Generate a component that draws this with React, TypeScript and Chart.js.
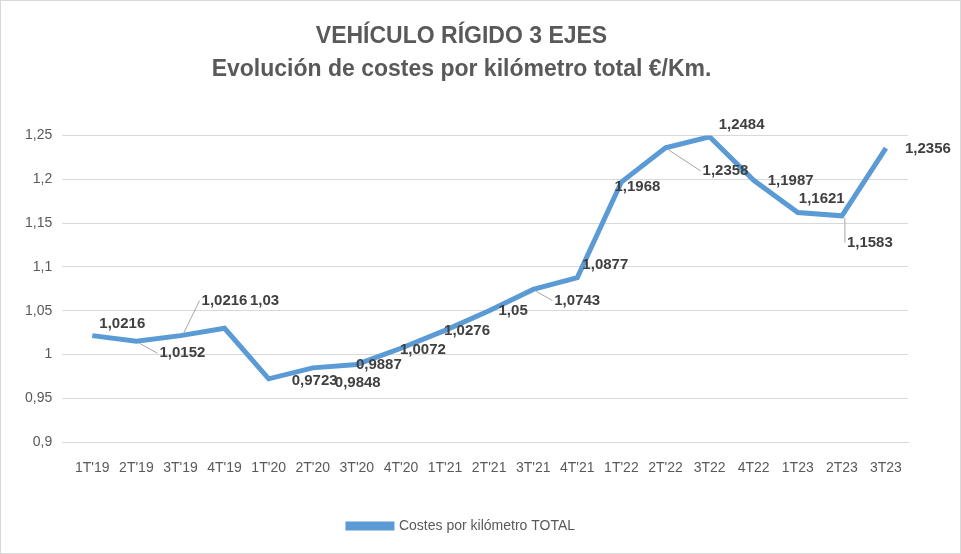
import React, { useEffect, useRef } from "react";
import { Chart, registerables } from "chart.js";
Chart.register(...registerables);

const categories = ["1T'19","2T'19","3T'19","4T'19","1T'20","2T'20","3T'20","4T'20","1T'21","2T'21","3T'21","4T'21","1T'22","2T'22","3T22","4T22","1T23","2T23","3T23"];
const values = [1.0216,1.0152,1.0216,1.03,0.9723,0.9848,0.9887,1.0072,1.0276,1.05,1.0743,1.0877,1.1968,1.2358,1.2484,1.1987,1.1621,1.1583,1.2356];
const yTicks = [0.9,0.95,1,1.05,1.1,1.15,1.2,1.25];
// label offsets [dx, dy, leader]
const labelOffsets: [number, number, boolean][] = [
  [30,-12,false],[46,12,true],[44,-35,true],[40,-27,false],[46,2,false],[45,15,false],
  [22,0,false],[22,2,false],[22,1,false],[24,0,false],[44,11,true],[28,-13,false],
  [16,5,false],[60,23,true],[32,-12,false],[37,0,false],[24,-14,false],[28,27,true],[42,1,false]
];
const fmt = (v: number) => String(v).replace(".", ",");

const labelPlugin = {
  id: "pointLabels",
  afterDatasetsDraw(chart: any) {
    const ctx = chart.ctx;
    const meta = chart.getDatasetMeta(0);
    ctx.save();
    ctx.font = "bold 15px 'Liberation Sans', Arial, sans-serif";
    ctx.textAlign = "center";
    ctx.textBaseline = "middle";
    meta.data.forEach((pt: any, i: number) => {
      const [dx, dy, leader] = labelOffsets[i];
      const lx = pt.x + dx, ly = pt.y + dy;
      const text = fmt(values[i]);
      const w = ctx.measureText(text).width;
      if (leader) {
        ctx.strokeStyle = "#a6a6a6";
        ctx.lineWidth = 1;
        ctx.beginPath();
        ctx.moveTo(pt.x + 3, pt.y + (dy > 0 ? 2 : -2));
        const ex = lx - w / 2 - 2;
        ctx.lineTo(ex, ly);
        ctx.stroke();
      }
      ctx.fillStyle = "#404040";
      ctx.fillText(text, lx, ly);
    });
    ctx.restore();
  },
};

export default function App() {
  const ref = useRef<HTMLCanvasElement>(null);
  useEffect(() => {
    document.body.style.margin = "0";
    const chart = new Chart(ref.current!, {
      type: "line",
      data: {
        labels: categories,
        datasets: [{
          label: "Costes por kilómetro TOTAL",
          data: values,
          borderColor: "#5B9BD5",
          backgroundColor: "#5B9BD5",
          borderWidth: 5,
          pointRadius: 0,
          tension: 0,
        }],
      },
      options: {
        responsive: false,
        animation: false,
        layout: { padding: { left: 14, right: 52, top: 8, bottom: 10 } },
        plugins: {
          title: {
            display: true,
            text: ["VEHÍCULO RÍGIDO 3 EJES", "Evolución de costes por kilómetro total €/Km."],
            color: "#595959",
            font: { size: 23, weight: "bold", family: "'Liberation Sans', Arial, sans-serif", lineHeight: 1.4 },
            padding: { top: 12, bottom: 50 },
          },
          legend: {
            position: "bottom",
            labels: {
              color: "#595959",
              font: { size: 14, family: "'Liberation Sans', Arial, sans-serif" },
              boxWidth: 44, boxHeight: 4, padding: 32,
            },
          },
          tooltip: { enabled: false },
        },
        scales: {
          x: {
            offset: true,
            grid: { display: false },
            border: { color: "#d9d9d9" },
            ticks: { color: "#595959", font: { size: 14, family: "'Liberation Sans', Arial, sans-serif" }, maxRotation: 0, autoSkip: false, padding: 10 },
          },
          y: {
            min: 0.9, max: 1.25,
            afterBuildTicks: (s: any) => { s.ticks = yTicks.map(v => ({ value: v })); },
            grid: { color: "#d9d9d9" },
            border: { display: false },
            ticks: { color: "#595959", font: { size: 14, family: "'Liberation Sans', Arial, sans-serif" }, padding: 10, callback: (v: any) => fmt(Number(v)) },
          },
        },
      },
      plugins: [labelPlugin],
    });
    return () => chart.destroy();
  }, []);
  return (
    <div style={{ width: 961, height: 554, boxSizing: "border-box", border: "1px solid #d9d9d9", background: "#fff" }}>
      <canvas ref={ref} width={959} height={552} />
    </div>
  );
}
